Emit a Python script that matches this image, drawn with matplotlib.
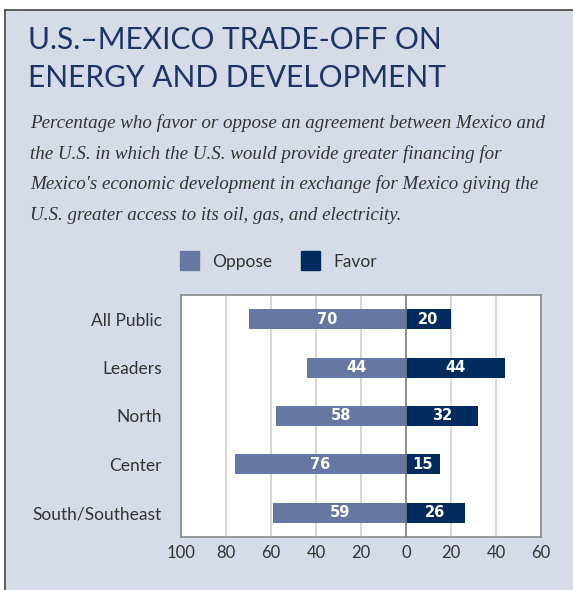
import matplotlib.pyplot as plt
import numpy as np

groups = ["All Public", "Leaders", "North", "Center", "South/Southeast"]
oppose = [70, 44, 58, 76, 59]
favor = [20, 44, 32, 15, 26]
ticks = [-100, -80, -60, -40, -20, 0, 20, 40, 60]

bg = "#d6dce7"
c_opp = "#6677a1"
c_fav = "#032b5e"
navy = "#1c3466"

fig = plt.figure(figsize=(5.73, 5.90), dpi=100)
fig.patch.set_facecolor("white")

# panel background with dark left/top border
panel = plt.Rectangle((5 / 573, 0), 1, 1 - 10 / 590, transform=fig.transFigure,
                      facecolor=bg, edgecolor="none", zorder=0)
fig.add_artist(panel)
fig.add_artist(plt.Line2D([5 / 573, 5 / 573], [0, 1 - 10 / 590], transform=fig.transFigure,
                          color="#444444", lw=1.2))
fig.add_artist(plt.Line2D([5 / 573, 1], [1 - 10 / 590, 1 - 10 / 590], transform=fig.transFigure,
                          color="#444444", lw=1.2))

fig.text(28 / 573, 1 - 40 / 590, "U.S.–MEXICO TRADE-OFF ON", fontsize=21.5,
         family="Lato", color=navy, va="center", ha="left")
fig.text(28 / 573, 1 - 78 / 590, "ENERGY AND DEVELOPMENT", fontsize=21.5,
         family="Lato", color=navy, va="center", ha="left")

sub = ["Percentage who favor or oppose an agreement between Mexico and",
       "the U.S. in which the U.S. would provide greater financing for",
       "Mexico's economic development in exchange for Mexico giving the",
       "U.S. greater access to its oil, gas, and electricity."]
for i, line in enumerate(sub):
    fig.text(30 / 573, 1 - (123 + 30.7 * i) / 590, line, fontsize=13.7,
             family="Liberation Serif", style="italic", color="#333333",
             va="center", ha="left")

ax = fig.add_axes([181 / 573, 1 - 537 / 590, 360 / 573, 242 / 590])
ax.set_facecolor("white")
y = np.arange(len(groups))
ax.barh(y, [-v for v in oppose], height=0.41, color=c_opp, zorder=3)
ax.barh(y, favor, height=0.41, color=c_fav, zorder=3)
for yi, o, f in zip(y, oppose, favor):
    ax.text(-o / 2, yi, str(o), color="white", fontweight="bold", fontsize=10.5,
            family="DejaVu Sans", ha="center", va="center", zorder=4)
    ax.text(f / 2, yi, str(f), color="white", fontweight="bold", fontsize=10.5,
            family="DejaVu Sans", ha="center", va="center", zorder=4)

ax.set_xlim(-100, 60)
ax.set_ylim(len(groups) - 0.5, -0.5)
ax.set_xticks(ticks)
ax.set_xticklabels([str(abs(t)) for t in ticks], family="Lato", fontsize=12, color="#333333")
ax.set_yticks(y)
ax.set_yticklabels(groups, family="Lato", fontsize=12.5, color="#333333")
ax.tick_params(axis="both", length=0, pad=6)
ax.tick_params(axis="y", pad=14)
for t in ticks:
    if t != 0:
        ax.axvline(t, color="#d0d0d0", lw=1.2, zorder=1)
ax.axvline(0, color="#777777", lw=1.2, zorder=5)
for s in ax.spines.values():
    s.set_color("#888888")
    s.set_linewidth(1.2)

# legend
fig.add_artist(plt.Rectangle((180 / 573, 1 - 270 / 590), 19 / 573, 19 / 590,
                             transform=fig.transFigure, color=c_opp))
fig.text(212 / 573, 1 - 262 / 590, "Oppose", fontsize=12.5, family="Lato",
         color="#333333", va="center")
fig.add_artist(plt.Rectangle((301 / 573, 1 - 270 / 590), 19 / 573, 19 / 590,
                             transform=fig.transFigure, color=c_fav))
fig.text(333 / 573, 1 - 262 / 590, "Favor", fontsize=12.5, family="Lato",
         color="#333333", va="center")

fig.savefig("out.png", dpi=100)
